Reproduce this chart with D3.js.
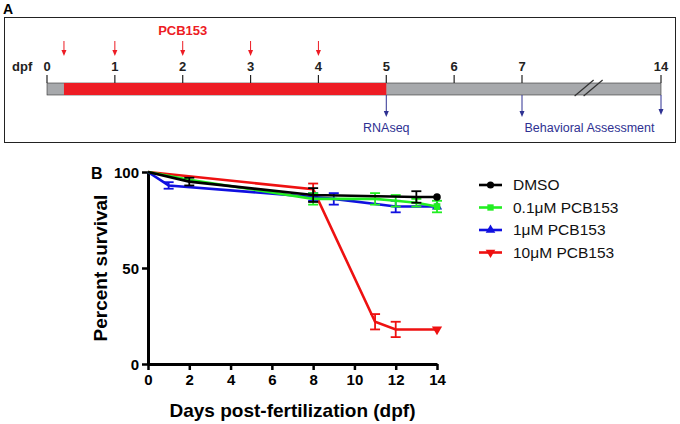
<!DOCTYPE html>
<html>
<head>
<meta charset="utf-8">
<script src="https://cdn.jsdelivr.net/npm/d3@7"></script>
<style>
  body { margin: 0; background: #fff; }
  svg { font-family: "Liberation Sans", Arial, sans-serif; }
</style>
</head>
<body>
<div id="chart"></div>
<script>
// ---- panel A: exposure timeline ----
const timelineDays = [0, 1, 2, 3, 4, 5, 6, 7, 14];
const dosingDays = [0.25, 1, 2, 3, 4];
const exposureWindow = [0.25, 5];
const samplingDays = [5, 7, 14];
const samplingLabels = [
  { text: "RNAseq", at: 5 },
  { text: "Behavioral Assessment", at: 10.4 }
];

// ---- panel B: survival ----
const yTicks = [0, 50, 100];
const xTicks = [0, 2, 4, 6, 8, 10, 12, 14];
const groups = ["DMSO", "0.1\u03bcM PCB153", "1\u03bcM PCB153", "10\u03bcM PCB153"];

const dmsoDays = [0, 2, 8, 13, 14];
const dmsoSurvival = [100, 95, 88, 87, 87];
const dmsoErr = [0, 2, 3.6, 3, 0];

const lowDays = [0, 2, 8, 11, 12, 13, 14];
const lowSurvival = [100, 96, 86, 86, 85, 84, 82];
const lowErr = [0, 0, 3, 3, 3, 2, 3];

const midDays = [0, 1, 8, 9, 12, 14];
const midSurvival = [100, 93, 87, 86, 82, 82];
const midErr = [0, 1.7, 2, 3, 3, 0];

const highDays = [0, 8, 11, 12, 14];
const highSurvival = [100, 91, 22, 18, 18];
const highErr = [0, 3, 4, 4, 0];

const W = 680, H = 424;
const svg = d3.select("#chart").append("svg")
  .attr("width", W)
  .attr("height", H);

// ========== Panel A ==========
const red = "#ed1c24", grey = "#a7a9ac", navy = "#2e3192";

svg.append("text")
  .attr("x", 3).attr("y", 14)
  .attr("font-weight", "bold").attr("font-size", 14)
  .text("A");

svg.append("rect")
  .attr("x", 4.5).attr("y", 17.5)
  .attr("width", 671).attr("height", 125)
  .attr("fill", "none").attr("stroke", "#222").attr("stroke-width", 1);

// piecewise scale: days 0-7 evenly spaced, then a break to 14
const t = d3.scaleLinear().domain([0, 7, 14]).range([47, 522, 661]);
const barTop = 83, barBottom = 95;

svg.append("rect")
  .attr("x", t(0)).attr("y", barTop)
  .attr("width", t(14) - t(0)).attr("height", barBottom - barTop)
  .attr("fill", grey).attr("stroke", "#333").attr("stroke-width", 0.6);

svg.append("rect")
  .attr("x", t(exposureWindow[0])).attr("y", barTop)
  .attr("width", t(exposureWindow[1]) - t(exposureWindow[0])).attr("height", barBottom - barTop)
  .attr("fill", red);

// break marks
const breakG = svg.append("g");
[0, 9].forEach(function(dx) {
  breakG.append("line")
    .attr("x1", t(9.65) + dx).attr("y1", barBottom + 1)
    .attr("x2", t(9.65) + dx + 19).attr("y2", barTop - 3)
    .attr("stroke", "#333").attr("stroke-width", 1.2);
});

const tl = svg.append("g");
tl.selectAll(".tl-tick")
  .data(timelineDays)
  .enter().append("line")
    .attr("x1", function(d) { return t(d) })
    .attr("x2", function(d) { return t(d) })
    .attr("y1", barTop - 8).attr("y2", barTop)
    .attr("stroke", "#222").attr("stroke-width", 1.2);

tl.selectAll(".tl-label")
  .data(timelineDays)
  .enter().append("text")
    .attr("x", function(d) { return t(d) })
    .attr("y", 71)
    .attr("text-anchor", "middle")
    .attr("font-weight", "bold").attr("font-size", 13)
    .attr("fill", "#222")
    .text(function(d) { return d });

svg.append("text")
  .attr("x", 12).attr("y", 71)
  .attr("font-weight", "bold").attr("font-size", 13)
  .attr("fill", "#222")
  .text("dpf");

svg.append("text")
  .attr("x", t(2)).attr("y", 35)
  .attr("text-anchor", "middle")
  .attr("font-weight", "bold").attr("font-size", 13)
  .attr("fill", red)
  .text("PCB153");

function arrow(g, x, y1, y2, color, head) {
  g.append("line")
    .attr("x1", x).attr("x2", x)
    .attr("y1", y1).attr("y2", y2 - head)
    .attr("stroke", color).attr("stroke-width", 1);
  g.append("path")
    .attr("d", "M" + (x - 2.5) + "," + (y2 - head) + "L" + (x + 2.5) + "," + (y2 - head) + "L" + x + "," + y2 + "Z")
    .attr("fill", color);
}

dosingDays.forEach(function(d) { arrow(tl, t(d), 41, 56, red, 6) });
samplingDays.forEach(function(d) { arrow(tl, t(d), barBottom, d === 14 ? 115 : 117, navy, 6) });

tl.selectAll(".samp-label")
  .data(samplingLabels)
  .enter().append("text")
    .attr("x", function(d) { return t(d.at) })
    .attr("y", 132)
    .attr("text-anchor", "middle")
    .attr("font-size", 12.5)
    .attr("font-family", "'Liberation Sans Narrow', 'Arial Narrow', sans-serif")
    .attr("fill", navy)
    .text(function(d) { return d.text });

// ========== Panel B ==========
const x = d3.scaleLinear().domain([0, 14]).range([148, 437]);
const y = d3.scaleLinear().domain([0, 100]).range([364, 172]);

svg.append("text")
  .attr("x", 91).attr("y", 179)
  .attr("font-weight", "bold").attr("font-size", 16)
  .text("B");

const gx = svg.append("g")
  .attr("transform", "translate(0," + y(0) + ")")
  .call(d3.axisBottom(x).tickValues(xTicks).tickSize(6).tickSizeOuter(0).tickPadding(4));
const gy = svg.append("g")
  .attr("transform", "translate(" + x(0) + ",0)")
  .call(d3.axisLeft(y).tickValues(yTicks).tickSize(6).tickSizeOuter(0).tickPadding(3));

[gx, gy].forEach(function(g) {
  g.select(".domain").attr("stroke", "#000").attr("stroke-width", 3);
  g.selectAll(".tick line").attr("stroke", "#000").attr("stroke-width", 2.5);
  g.selectAll(".tick text")
    .attr("fill", "#000")
    .attr("font-weight", "bold").attr("font-size", 15)
    .attr("font-family", "'Liberation Sans', Arial, sans-serif");
});
gy.selectAll(".tick text").attr("dy", "0.35em");

svg.append("text")
  .attr("transform", "translate(107," + y(50) + ") rotate(-90)")
  .attr("text-anchor", "middle")
  .attr("font-weight", "bold").attr("font-size", 19)
  .text("Percent survival");

svg.append("text")
  .attr("x", (x(0) + x(14)) / 2).attr("y", 417)
  .attr("text-anchor", "middle")
  .attr("font-weight", "bold").attr("font-size", 19)
  .text("Days post-fertilization (dpf)");

function zipSeries(days, vals, errs) {
  return days.map(function(d, i) { return { day: d, v: vals[i], e: errs[i] } });
}

const series = [
  { name: groups[0], color: "#000000", shape: d3.symbolCircle, data: zipSeries(dmsoDays, dmsoSurvival, dmsoErr) },
  { name: groups[1], color: "#22ee22", shape: d3.symbolSquare, data: zipSeries(lowDays, lowSurvival, lowErr) },
  { name: groups[2], color: "#1010e0", shape: d3.symbolTriangle, data: zipSeries(midDays, midSurvival, midErr) },
  { name: groups[3], color: "#ee1111", shape: d3.symbolTriangle, rot: 180, data: zipSeries(highDays, highSurvival, highErr) }
];

const line = d3.line()
  .x(function(d) { return x(d.day) })
  .y(function(d) { return y(d.v) });

const plot = svg.append("g");

// draw in reverse so DMSO sits on top
series.slice().reverse().forEach(function(s) {
  const g = plot.append("g");
  g.append("path")
    .attr("d", line(s.data))
    .attr("fill", "none")
    .attr("stroke", s.color)
    .attr("stroke-width", 2.6);

  const eb = g.selectAll(".err")
    .data(s.data.filter(function(d) { return d.e > 0 }))
    .enter().append("g");
  eb.append("line")
    .attr("x1", function(d) { return x(d.day) })
    .attr("x2", function(d) { return x(d.day) })
    .attr("y1", function(d) { return y(d.v + d.e) })
    .attr("y2", function(d) { return y(d.v - d.e) })
    .attr("stroke", s.color).attr("stroke-width", 1.8);
  [1, -1].forEach(function(sign) {
    eb.append("line")
      .attr("x1", function(d) { return x(d.day) - 5 })
      .attr("x2", function(d) { return x(d.day) + 5 })
      .attr("y1", function(d) { return y(d.v + sign * d.e) })
      .attr("y2", function(d) { return y(d.v + sign * d.e) })
      .attr("stroke", s.color).attr("stroke-width", 1.8);
  });

  g.selectAll(".pt")
    .data(s.data.slice(-1))
    .enter().append("path")
      .attr("d", d3.symbol().type(s.shape).size(45))
      .attr("transform", function(d) { return "translate(" + x(d.day) + "," + y(d.v) + ") rotate(" + (s.rot || 0) + ")" })
      .attr("fill", s.color);
});

// legend
const legend = svg.append("g");
const leg = legend.selectAll(".leg")
  .data(series)
  .enter().append("g")
    .attr("transform", function(d, i) { return "translate(479," + (185 + i * 22.5) + ")" });
leg.append("line")
  .attr("x1", 0).attr("x2", 23)
  .attr("stroke", function(d) { return d.color })
  .attr("stroke-width", 2.6);
leg.append("path")
  .attr("d", function(d) { return d3.symbol().type(d.shape).size(40)() })
  .attr("transform", function(d) { return "translate(11.5,0) rotate(" + (d.rot || 0) + ")" })
  .attr("fill", function(d) { return d.color });
leg.append("text")
  .attr("x", 34).attr("dy", "0.35em")
  .attr("font-size", 15.5)
  .attr("fill", "#111")
  .text(function(d) { return d.name });
</script>
</body>
</html>
